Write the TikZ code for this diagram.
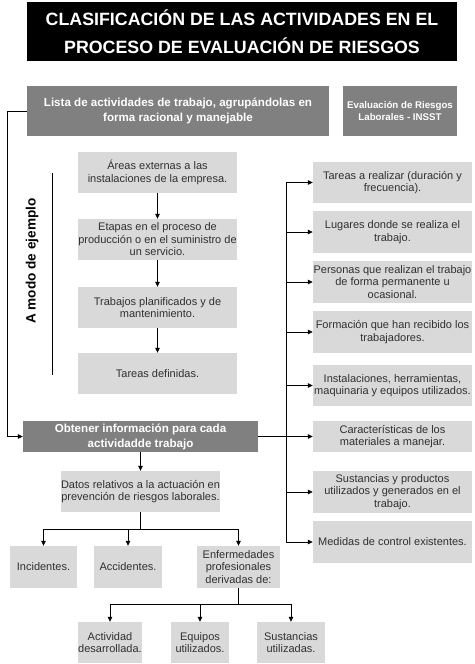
\documentclass[tikz,border=0pt]{standalone}
\usepackage{fontspec}
\setmainfont{Liberation Sans}
\usetikzlibrary{arrows.meta}
\definecolor{boxlight}{HTML}{D9D9D9}
\definecolor{boxdark}{HTML}{808080}
\definecolor{txtdark}{HTML}{303030}
\begin{document}
\begin{tikzpicture}[x=1pt,y=-1pt,
  lbox/.style={fill=boxlight,draw=none,inner sep=0pt,align=center,text=txtdark,font=\fontsize{11}{12.5}\selectfont},
  dbox/.style={fill=boxdark,draw=none,inner sep=0pt,align=center,text=white,font=\bfseries\fontsize{11.6}{15}\selectfont},
  conn/.style={draw=black,line width=0.8pt},
  arr/.style={conn,-{Triangle[length=5pt,width=4.5pt]}}
]
\useasboundingbox (0,0) rectangle (474,664);
% title
\node[fill=black,text=white,font=\bfseries\fontsize{17.8}{28}\selectfont,align=center,minimum width=430pt,minimum height=59pt,inner sep=0pt] (title) at (242,31.5) {CLASIFICACIÓN DE LAS ACTIVIDADES EN EL\\PROCESO DE EVALUACIÓN DE RIESGOS};
% top row
\node[dbox,minimum width=302pt,minimum height=50pt] (lista) at (178,111) {Lista de actividades de trabajo, agrupándolas en\\forma racional y manejable};
\node[dbox,font=\bfseries\fontsize{9.7}{12.5}\selectfont,minimum width=114pt,minimum height=50pt] (eval) at (400,111) {Evaluación de Riesgos\\Laborales - INSST};
% middle column
\node[lbox,minimum width=159pt,minimum height=41pt] (m1) at (157.5,172.5) {Áreas externas a las\\instalaciones de la empresa.};
\node[lbox,minimum width=159pt,minimum height=41pt] (m2) at (157.5,239.5) {Etapas en el proceso de\\producción o en el suministro de\\un servicio.};
\node[lbox,minimum width=159pt,minimum height=41pt] (m3) at (157.5,307.5) {Trabajos planificados y de\\mantenimiento.};
\node[lbox,minimum width=159pt,minimum height=41pt] (m4) at (157.5,373.5) {Tareas definidas.};
\draw[arr] (m1) -- (m2);
\draw[arr] (m2) -- (m3);
\draw[arr] (m3) -- (m4);
% side label
\coordinate (vt) at (52,173);
\coordinate (vb) at (52,375);
\draw[line width=0.6pt] (vt) -- (vb);
\node[rotate=90,font=\bfseries\fontsize{13.6}{16}\selectfont,text=black] (modo) at (32,261) {A modo de ejemplo};
% obtener
\node[dbox,minimum width=235pt,minimum height=31pt] (obt) at (140.5,436.5) {Obtener información para cada\\actividadde trabajo};
\coordinate (lt) at (7,111);
\coordinate (lb) at (7,436.5);
\draw[arr] (lista.west) -- (lt) -- (lb) -- (obt.west);
% right column
\node[lbox,minimum width=159pt,minimum height=41pt] (t1) at (392.5,182.5) {Tareas a realizar (duración y\\frecuencia).};
\node[lbox,minimum width=159pt,minimum height=42pt] (t2) at (392.5,232) {Lugares donde se realiza el\\trabajo.};
\node[lbox,minimum width=159pt,minimum height=42pt] (t3) at (392.5,282) {Personas que realizan el trabajo\\de forma permanente u\\ocasional.};
\node[lbox,minimum width=159pt,minimum height=42pt] (t4) at (392.5,332) {Formación que han recibido los\\trabajadores.};
\node[lbox,minimum width=159pt,minimum height=41pt] (t5) at (392.5,385.5) {Instalaciones, herramientas,\\maquinaria y equipos utilizados.};
\node[lbox,minimum width=159pt,minimum height=31pt] (t6) at (392.5,436.5) {Características de los\\materiales a manejar.};
\node[lbox,minimum width=159pt,minimum height=42pt] (t7) at (392.5,492) {Sustancias y productos\\utilizados y generados en el\\trabajo.};
\node[lbox,minimum width=159pt,minimum height=42pt] (t8) at (392.5,542) {Medidas de control existentes.};
\coordinate (tr1) at (286,182.5);
\coordinate (tr2) at (286,232);
\coordinate (tr3) at (286,282);
\coordinate (tr4) at (286,332);
\coordinate (tr5) at (286,385.5);
\coordinate (tr6) at (286,436.5);
\coordinate (tr7) at (286,492);
\coordinate (tr8) at (286,542);
\draw[conn] (tr1) -- (tr8);
\draw[conn] (obt.east) -- (tr6);
\foreach \i in {1,...,8} {\draw[arr] (tr\i) -- (t\i.west);}
% datos
\node[lbox,minimum width=159pt,minimum height=41pt] (datos) at (140.5,491.5) {Datos relativos a la actuación en\\prevención de riesgos laborales.};
\draw[arr] (obt) -- (datos);
\node[lbox,minimum width=67pt,minimum height=42pt] (inc) at (43.5,567) {Incidentes.};
\node[lbox,minimum width=68pt,minimum height=42pt] (acc) at (128,567) {Accidentes.};
\node[lbox,minimum width=83pt,minimum height=42pt] (enf) at (238.5,567) {Enfermedades\\profesionales\\derivadas de:};
\coordinate (dj) at (140.5,529);
\coordinate (dl) at (43.5,529);
\coordinate (da) at (128,529);
\coordinate (dr) at (238.5,529);
\draw[conn] (datos.south) -- (dj);
\draw[conn] (dl) -- (dr);
\draw[arr] (dl) -- (inc.north);
\draw[arr] (da) -- (acc.north);
\draw[arr] (dr) -- (enf.north);
% bottom
\node[lbox,minimum width=64pt,minimum height=41pt] (act) at (110,642.5) {Actividad\\desarrollada.};
\node[lbox,minimum width=58pt,minimum height=41pt] (equ) at (200,642.5) {Equipos\\utilizados.};
\node[lbox,minimum width=68pt,minimum height=41pt] (sus) at (291,642.5) {Sustancias\\utilizadas.};
\coordinate (ej) at (238.5,604);
\coordinate (el) at (110,604);
\coordinate (em) at (200,604);
\coordinate (er) at (291,604);
\draw[conn] (enf.south) -- (ej);
\draw[conn] (el) -- (er);
\draw[arr] (el) -- (act.north);
\draw[arr] (em) -- (equ.north);
\draw[arr] (er) -- (sus.north);
\end{tikzpicture}
\end{document}
